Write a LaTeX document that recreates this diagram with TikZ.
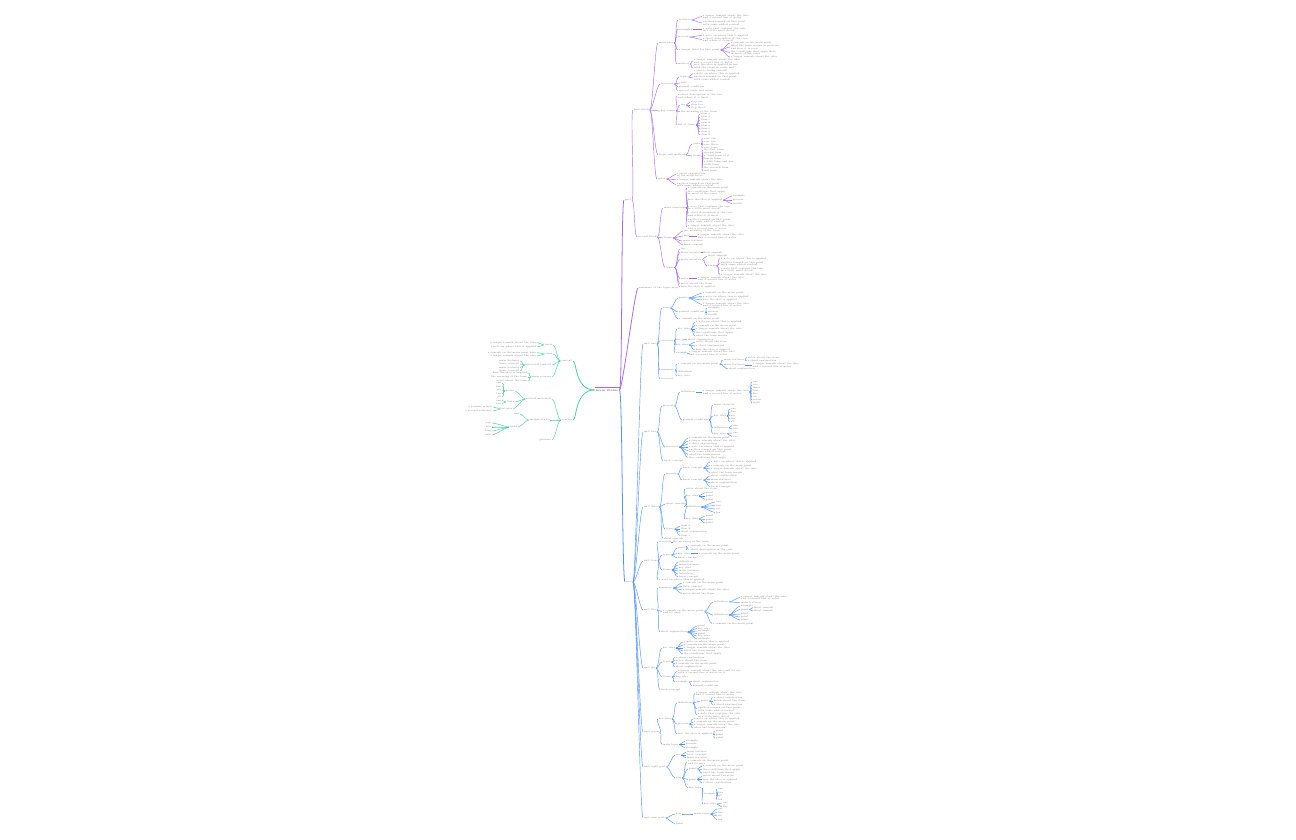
\documentclass[tikz,border=0pt]{standalone}
\definecolor{pur}{RGB}{160,105,245}
\definecolor{blu}{RGB}{80,145,250}
\definecolor{tea}{RGB}{70,205,160}
\definecolor{txtgray}{RGB}{125,125,125}
\tikzset{
  leaf/.style={font=\fontsize{1.4}{1.5}\selectfont, text=txtgray, inner sep=0.3pt, align=left},
  link/.style={line width=0.25pt},
  trunk/.style={line width=0.45pt},
  rootnode/.style={font=\fontsize{1.8}{2}\selectfont, text=black!70, inner sep=0.6pt},
}
\newcommand{\rkid}[6]{\node[leaf,anchor=west] (#3) at (#4,#5) {#6};
  \draw[link,#1] (#2.east) .. controls +(3,0) and +(-3,0) .. (#3.west);}
\newcommand{\lkid}[6]{\node[leaf,anchor=east] (#3) at (#4,#5) {#6};
  \draw[link,#1] (#2.west) .. controls +(-3,0) and +(3,0) .. (#3.east);}
\newcommand{\lstem}[6]{\node[leaf,anchor=east] (#3) at (#4,#5) {#6};
  \draw[link,#1] (#2.west) .. controls +(-20,0) and +(4,0) .. (#3.east);}
\begin{document}
\begin{tikzpicture}[x=0.2mm,y=-0.2mm]
\useasboundingbox (0,0) rectangle (1296,840);
\node[rootnode] (root) at (607,390) {main theme};
\draw[pur,line width=0.8pt] (root.north west) -- (root.north east);

\rkid{pur,trunk}{root}{A}{624}{200}{part}
\rkid{pur,trunk}{root}{B}{638}{288}{summary of the topic map}
\rkid{pur}{A}{A1}{633}{110}{first block}
\rkid{pur}{A}{A2}{637}{237}{second block}

\rkid{pur}{A1}{a}{658}{43}{main idea}
\rkid{pur}{a}{aa}{678}{20}{features}
\rkid{pur}{aa}{aaa}{702}{16.5}{a longer remark about the idea\\and a second line of notes}
\rkid{pur}{aa}{aab}{702}{23}{another remark on this point\\with some added context}
\rkid{pur}{a}{ab}{678}{29.5}{examples}
\rkid{pur}{ab}{aba}{702}{29.5}{a note that explains the rule\\in a little more detail}
\rkid{pur}{a}{ac}{677}{37}{process}
\rkid{pur}{ac}{aca}{702}{35.5}{a note on where this is applied}
\rkid{pur}{ac}{acb}{702}{39.5}{a short description of the case\\and where it is used}
\rkid{pur}{a}{ad}{678}{50}{a longer label for this point}
\rkid{pur}{ad}{ada}{730}{43}{a remark on the main point}
\rkid{pur}{ad}{adb}{730}{47}{what the term means in practice\\and how it is read}
\rkid{pur}{ad}{adc}{730}{52.5}{the conditions that apply here\\in most of the cases}
\rkid{pur}{ad}{add}{730}{57}{a longer remark about the idea}
\rkid{pur}{a}{ae}{677}{64}{method}
\rkid{pur}{ae}{aea}{693}{61}{a longer remark about the idea\\and a second line of notes}
\rkid{pur}{ae}{aeb}{693}{68}{how the idea is applied in use\\with the steps in order and\\a short closing remark}

\rkid{pur}{A1}{b}{660}{84}{overview}
\rkid{pur}{b}{ba}{679}{77}{types}
\rkid{pur}{ba}{baa}{693}{73.5}{a note on where this is applied}
\rkid{pur}{ba}{bab}{693}{78}{another remark on this point\\with some added context}
\rkid{pur}{b}{bb}{680}{83}{rule}
\rkid{pur}{b}{bc}{678}{87}{general condition}
\rkid{pur}{b}{bd}{678}{90.5}{special cases and notes}

\rkid{pur}{A1}{c}{660}{111}{key terms}
\rkid{pur}{c}{ca}{677}{96}{a short description of the case\\and where it is used}
\rkid{pur}{c}{cb}{680}{105}{use}
\rkid{pur}{cb}{cba}{690}{102}{step one}
\rkid{pur}{cb}{cbb}{690}{105}{step two}
\rkid{pur}{cb}{cbc}{690}{108}{step three}
\rkid{pur}{c}{cc}{680}{111.5}{the meaning of the term}
\rkid{pur}{c}{cd}{677}{125}{list of items}
\rkid{pur}{cd}{cda}{700}{114}{item a}
\rkid{pur}{cd}{cdb}{700}{117}{item b}
\rkid{pur}{cd}{cdc}{700}{120}{item c}
\rkid{pur}{cd}{cdd}{700}{123}{item d}
\rkid{pur}{cd}{cde}{700}{126}{item e}
\rkid{pur}{cd}{cdf}{700}{129}{item f}
\rkid{pur}{cd}{cdg}{700}{132}{item g}
\rkid{pur}{cd}{cdh}{700}{135}{item h}

\rkid{pur}{A1}{d}{658}{155}{steps and method}
\rkid{pur}{d}{da}{692}{144}{cases}
\rkid{pur}{da}{daa}{703}{138.5}{case one}
\rkid{pur}{da}{dab}{703}{141.5}{case two}
\rkid{pur}{da}{dac}{703}{144.5}{case three}
\rkid{pur}{da}{dad}{703}{147.5}{case four}
\rkid{pur}{d}{db}{692}{156}{forms}
\rkid{pur}{db}{dba}{703}{150}{the first form}
\rkid{pur}{db}{dbb}{703}{153}{second form}
\rkid{pur}{db}{dbc}{703}{156}{a third form of it}
\rkid{pur}{db}{dbd}{703}{159}{fourth form}
\rkid{pur}{db}{dbe}{703}{162}{a fifth form and use}
\rkid{pur}{db}{dbf}{703}{165}{sixth form}
\rkid{pur}{db}{dbg}{703}{168}{the seventh form}
\rkid{pur}{db}{dbh}{703}{171}{last form}

\rkid{pur}{A1}{e}{657}{179}{notes}
\rkid{pur}{e}{ea}{676}{174.5}{a short explanation\\of the main notes}
\rkid{pur}{e}{eb}{676}{179.5}{a longer remark about the idea}
\rkid{pur}{e}{ec}{676}{184.5}{another remark on this point\\with some added context}

\rkid{pur}{A2}{f}{663}{208}{main structure}
\rkid{pur}{f}{fa}{687}{188}{a remark on the main point}
\rkid{pur}{f}{fb}{687}{192.5}{the conditions that apply\\in most of the cases}
\rkid{pur}{f}{fc}{687}{200}{how the idea is applied}
\rkid{pur}{fc}{fca}{732}{196}{example}
\rkid{pur}{fc}{fcb}{732}{200}{process}
\rkid{pur}{fc}{fcc}{732}{203.5}{results}
\rkid{pur}{f}{fd}{687}{207.5}{a note that explains the rule\\in a little more detail}
\rkid{pur}{f}{fe}{687}{214}{a short description of the case\\and where it is used}
\rkid{pur}{f}{ff}{687}{220.5}{another remark on this point\\with some added context}
\rkid{pur}{f}{fg}{687}{227}{a longer remark about the idea\\and a second line of notes}

\rkid{pur}{A2}{g}{663}{238}{forms}
\rkid{pur}{g}{ga}{683}{231}{the meaning of the term}
\rkid{pur}{g}{gb}{683}{236}{use}
\rkid{pur}{gb}{gba}{697}{236}{a longer remark about the idea\\and a second line of notes}
\rkid{pur}{g}{gc}{682}{241}{main features}
\rkid{pur}{g}{gd}{683}{245}{basic concept}

\rkid{pur}{A2}{h}{665}{267.5}{types}
\rkid{pur}{h}{ha}{680}{249}{tip}
\rkid{pur}{h}{hb}{680}{252.5}{main varieties}
\rkid{pur}{hb}{hba}{702}{252.5}{short remark}
\rkid{pur}{h}{hc}{680}{259.5}{main varieties}
\rkid{pur}{hc}{hca}{707}{256}{short remark}
\rkid{pur}{hc}{hcb}{707}{266}{kinds}
\rkid{pur}{hcb}{hcba}{720}{258.5}{a note on where this is applied}
\rkid{pur}{hcb}{hcbb}{720}{263.5}{another remark on this point\\with some added context}
\rkid{pur}{hcb}{hcbc}{720}{269.5}{a note that explains the rule\\in a little more detail}
\rkid{pur}{hcb}{hcbd}{720}{274.5}{a longer remark about the idea}
\rkid{pur}{h}{hd}{680}{278.5}{notes}
\rkid{pur}{hd}{hda}{697}{278.5}{a longer remark about the idea\\and a second line of notes}
\rkid{pur}{h}{he}{680}{283.5}{notes about the item}
\rkid{pur}{h}{hf}{680}{287}{how the idea is applied}

\rkid{blu,trunk}{root}{C}{625}{582}{part}
\rkid{blu}{C}{C1}{643}{344}{unit one}
\rkid{blu}{C}{C2}{643}{432}{unit two}
\rkid{blu}{C}{C3}{643}{507}{unit three}
\rkid{blu}{C}{C4}{643}{561}{unit four}
\rkid{blu}{C}{C5}{643}{610}{unit five}
\rkid{blu}{C}{C6}{643}{668}{unit six}
\rkid{blu}{C}{C7}{643}{732}{unit seven}
\rkid{blu}{C}{C8}{643}{767}{unit eight part}
\rkid{blu}{C}{C9}{643}{818}{unit nine part}

\rkid{blu}{C1}{ja}{662}{308}{aims}
\rkid{blu}{ja}{jaa}{678}{298}{points}
\rkid{blu}{jaa}{jaaa}{702}{293}{a remark on the main point}
\rkid{blu}{jaa}{jaab}{702}{296.5}{a note on where this is applied}
\rkid{blu}{jaa}{jaac}{702}{300}{how the idea is applied}
\rkid{blu}{jaa}{jaad}{702}{304.5}{a longer remark about the idea\\and a second line of notes}
\rkid{blu}{ja}{jab}{678}{312}{general condition}
\rkid{blu}{jab}{jaba}{707}{308}{example}
\rkid{blu}{jab}{jabb}{707}{312}{process}
\rkid{blu}{jab}{jabc}{707}{315}{results}
\rkid{blu}{ja}{jac}{678}{319}{a remark on the main point}
\rkid{blu}{C1}{jb}{660}{341}{overview}
\rkid{blu}{jb}{jba}{677}{329}{key idea}
\rkid{blu}{jba}{jbaa}{695}{322}{a note on where this is applied}
\rkid{blu}{jba}{jbab}{695}{325.5}{a remark on the main point}
\rkid{blu}{jba}{jbac}{695}{329}{a longer remark about the idea}
\rkid{blu}{jba}{jbad}{695}{332.5}{the conditions that apply}
\rkid{blu}{jba}{jbae}{695}{336}{what the term means}
\rkid{blu}{jb}{jbb}{675}{340}{use}
\rkid{blu}{jbb}{jbba}{687}{339.5}{short explanation}
\rkid{blu}{jb}{jbc}{675}{345}{key idea}
\rkid{blu}{jbc}{jbca}{695}{342}{notes about the item}
\rkid{blu}{jbc}{jbcb}{695}{346}{a short explanation}
\rkid{blu}{jbc}{jbcc}{695}{350}{how the idea is applied}
\rkid{blu}{jb}{jbd}{675}{353}{example}
\rkid{blu}{jbd}{jbda}{688}{353}{a longer remark about the idea\\and a second line of notes}
\rkid{blu}{C1}{jc}{660}{370}{summary}
\rkid{blu}{jc}{jca}{677}{364}{a remark on the main point}
\rkid{blu}{jca}{jcaa}{723}{360}{main features}
\rkid{blu}{jcaa}{jcaaa}{747}{357.5}{notes about the item}
\rkid{blu}{jcaa}{jcaab}{747}{361}{a short explanation}
\rkid{blu}{jca}{jcab}{723}{365}{main features}
\rkid{blu}{jcab}{jcaba}{752}{365}{a longer remark about the idea\\and a second line of notes}
\rkid{blu}{jca}{jcac}{728}{369}{short explanation}
\rkid{blu}{jc}{jcb}{677}{372}{definition}
\rkid{blu}{jc}{jcc}{677}{376}{key idea}
\rkid{blu}{C1}{jd}{660}{379}{overview}

\rkid{blu}{C2}{ka}{662}{406}{process}
\rkid{blu}{ka}{kaa}{680}{392}{definition}
\rkid{blu}{kaa}{kaaa}{702}{392}{a longer remark about the idea\\and a second line of notes}
\rkid{blu}{kaaa}{k1}{752}{382}{one}
\rkid{blu}{kaaa}{k2}{752}{385}{two}
\rkid{blu}{kaaa}{k3}{752}{388}{three}
\rkid{blu}{kaaa}{k4}{752}{391}{four}
\rkid{blu}{kaaa}{k5}{752}{394}{five}
\rkid{blu}{kaaa}{k6}{752}{397}{six}
\rkid{blu}{kaaa}{k7}{752}{400}{seven}
\rkid{blu}{kaaa}{k8}{752}{403}{eight}
\rkid{blu}{ka}{kab}{682}{420}{general condition}
\rkid{blu}{kab}{kaba}{713}{405}{main varieties}
\rkid{blu}{kab}{kabb}{713}{416}{key idea}
\rkid{blu}{kabb}{kabba}{730}{409}{one}
\rkid{blu}{kabb}{kabbb}{730}{412}{two}
\rkid{blu}{kabb}{kabbc}{730}{415.5}{six}
\rkid{blu}{kabb}{kabbd}{730}{419}{ten}
\rkid{blu}{kabb}{kabbe}{730}{422}{all}
\rkid{blu}{kab}{kabc}{713}{428}{definition}
\rkid{blu}{kabc}{kabca}{732}{425.5}{one}
\rkid{blu}{kabc}{kabcb}{732}{429}{two}
\rkid{blu}{kab}{kabd}{713}{433.5}{key idea}
\rkid{blu}{kabd}{kabda}{732}{433}{one}
\rkid{blu}{kabd}{kabdb}{732}{436.5}{two}
\rkid{blu}{C2}{kb}{665}{447}{overview}
\rkid{blu}{kb}{kba}{688}{438}{a remark on the main point}
\rkid{blu}{kb}{kbb}{688}{441}{a longer remark about the idea}
\rkid{blu}{kb}{kbc}{688}{444}{a short explanation}
\rkid{blu}{kb}{kbd}{688}{447}{a note on where this is applied}
\rkid{blu}{kb}{kbe}{688}{450.5}{another remark on this point\\with some added context}
\rkid{blu}{kb}{kbf}{688}{454.5}{what the term means}
\rkid{blu}{kb}{kbg}{688}{457.5}{the conditions that apply}
\rkid{blu}{C2}{kc}{663}{461}{basic concept}

\rkid{blu}{C3}{ma}{665}{474}{process}
\rkid{blu}{ma}{maa}{682}{468}{basic concept}
\rkid{blu}{maa}{maaa}{710}{462}{a note on where this is applied}
\rkid{blu}{maa}{maab}{710}{465.5}{a remark on the main point}
\rkid{blu}{maa}{maac}{710}{469}{a longer remark about the idea}
\rkid{blu}{maa}{maad}{710}{472.5}{what the term means}
\rkid{blu}{ma}{mab}{682}{480}{basic concept}
\rkid{blu}{mab}{maba}{710}{476}{short explanation}
\rkid{blu}{mab}{mabb}{710}{479.5}{main features}
\rkid{blu}{mab}{mabc}{710}{483}{short explanation}
\rkid{blu}{mab}{mabd}{710}{486.5}{basic concept}
\rkid{blu}{C3}{mb}{665}{504}{short remark}
\rkid{blu}{mb}{mba}{685}{489}{notes about the item}
\rkid{blu}{mb}{mbb}{685}{496}{key idea}
\rkid{blu}{mbb}{mbba}{705}{492.5}{point}
\rkid{blu}{mbb}{mbbb}{705}{496}{point}
\rkid{blu}{mbb}{mbbc}{705}{499.5}{point}
\rkid{blu}{mb}{mbc}{685}{507}{definition}
\rkid{blu}{mbc}{mbca}{715}{502}{one}
\rkid{blu}{mbc}{mbcb}{715}{505.5}{two}
\rkid{blu}{mbc}{mbcc}{715}{509}{six}
\rkid{blu}{mbc}{mbcd}{715}{512.5}{ten}
\rkid{blu}{mb}{mbd}{685}{519}{key idea}
\rkid{blu}{mbd}{mbda}{705}{516}{point}
\rkid{blu}{mbd}{mbdb}{705}{519.5}{point}
\rkid{blu}{mbd}{mbdc}{705}{523}{point}
\rkid{blu}{C3}{mc}{665}{529}{types}
\rkid{blu}{mc}{mca}{680}{526}{item a}
\rkid{blu}{mc}{mcb}{680}{529}{item b}
\rkid{blu}{mc}{mcc}{680}{532}{short explanation}
\rkid{blu}{mc}{mcd}{680}{535.5}{item c}
\rkid{blu}{C3}{md}{663}{538.5}{short remark}

\rkid{blu}{C4}{na}{658}{542}{overview}
\rkid{blu}{na}{naa}{672}{542}{the meaning of the term}
\rkid{blu}{C4}{nb}{662}{555}{types}
\rkid{blu}{nb}{nba}{677}{548}{point}
\rkid{blu}{nba}{nbaa}{687}{546}{a remark on the main point}
\rkid{blu}{nba}{nbab}{687}{549.5}{a short description of the case}
\rkid{blu}{nb}{nbb}{677}{553.5}{key idea}
\rkid{blu}{nbb}{nbba}{698}{553.5}{a remark on the main point}
\rkid{blu}{nb}{nbc}{677}{558}{basic concept}
\rkid{blu}{C4}{nc}{662}{570}{forms}
\rkid{blu}{nc}{nca}{678}{562}{definition}
\rkid{blu}{nc}{ncb}{678}{565}{main features}
\rkid{blu}{nc}{ncc}{678}{568}{key idea}
\rkid{blu}{nc}{ncd}{678}{571}{main features}
\rkid{blu}{nc}{nce}{678}{574}{definition}
\rkid{blu}{nc}{ncf}{678}{577}{basic concept}
\rkid{blu}{C4}{nd}{658}{579.5}{a note on where this is applied}

\rkid{blu}{C5}{pa}{658}{588}{summary}
\rkid{blu}{pa}{paa}{682}{583}{a remark on the main point}
\rkid{blu}{pa}{pab}{682}{586.5}{basic concept}
\rkid{blu}{pa}{pac}{682}{590}{a longer remark about the idea}
\rkid{blu}{pa}{pad}{682}{593.5}{notes about the item}
\rkid{blu}{C5}{pb}{662}{611.5}{a remark on the main point\\and its uses}
\rkid{blu}{pb}{pba}{713}{602}{definition}
\rkid{blu}{pba}{pbaa}{740}{597.5}{a longer remark about the idea\\and a second line of notes}
\rkid{blu}{pba}{pbab}{740}{602.5}{main features}
\rkid{blu}{pb}{pbb}{713}{615}{definition}
\rkid{blu}{pbb}{pbba}{740}{606}{example}
\rkid{blu}{pbb}{pbbb}{740}{609.5}{point}
\rkid{blu}{pbbb}{pbbba}{753}{607.5}{short remark}
\rkid{blu}{pbbb}{pbbbb}{753}{611}{short remark}
\rkid{blu}{pbb}{pbbc}{740}{614}{point}
\rkid{blu}{pbb}{pbbd}{740}{617}{point}
\rkid{blu}{pbb}{pbbe}{740}{620}{point}
\rkid{blu}{pb}{pbc}{712}{623.5}{a remark on the main point}
\rkid{blu}{C5}{pc}{660}{632}{short explanation}
\rkid{blu}{pc}{pca}{697}{626}{point}
\rkid{blu}{pc}{pcb}{697}{628.5}{key idea}
\rkid{blu}{pc}{pcc}{697}{631}{example}
\rkid{blu}{pc}{pcd}{697}{633.5}{point}
\rkid{blu}{pc}{pce}{697}{636}{key idea}
\rkid{blu}{pc}{pcf}{697}{639}{example}

\rkid{blu}{C6}{qa}{662}{648}{key idea}
\rkid{blu}{qa}{qaa}{683}{642}{a note on where this is applied}
\rkid{blu}{qa}{qab}{683}{645}{a remark on the main point}
\rkid{blu}{qa}{qac}{683}{648}{a longer remark about the idea}
\rkid{blu}{qa}{qad}{683}{651}{what the term means}
\rkid{blu}{qa}{qae}{683}{654}{the conditions that apply}
\rkid{blu}{C6}{qb}{662}{662}{types}
\rkid{blu}{qb}{qba}{675}{657.5}{a short explanation}
\rkid{blu}{qb}{qbb}{675}{660.5}{notes about the item}
\rkid{blu}{qb}{qbc}{675}{664}{a remark on the main point}
\rkid{blu}{qb}{qbd}{675}{667}{short explanation}
\rkid{blu}{C6}{qc}{662}{677}{forms}
\rkid{blu}{qc}{qca}{677}{671.5}{a longer remark about the idea and its use\\with a second line of notes on it}
\rkid{blu}{qc}{qcb}{675}{676.5}{key idea}
\rkid{blu}{qc}{qcc}{675}{682}{example}
\rkid{blu}{qcc}{qcca}{692}{681.5}{short explanation}
\rkid{blu}{qcc}{qccb}{692}{685.5}{general condition}
\rkid{blu}{C6}{qd}{660}{689.5}{basic concept}

\rkid{blu}{C7}{ra}{658}{719}{key idea}
\rkid{blu}{ra}{raa}{677}{703}{definition}
\rkid{blu}{raa}{raaa}{695}{693.5}{a longer remark about the idea\\and a second line of notes}
\rkid{blu}{raa}{raab}{700}{701}{point}
\rkid{blu}{raab}{raaba}{713}{697.5}{a short explanation}
\rkid{blu}{raab}{raabb}{713}{701}{notes about the item}
\rkid{blu}{raab}{raabc}{713}{704.5}{a short explanation}
\rkid{blu}{raa}{raac}{697}{709}{another remark on this point\\with some added context}
\rkid{blu}{raa}{raad}{697}{715}{a note that explains the rule\\in a little more detail}
\rkid{blu}{ra}{rab}{677}{724}{process}
\rkid{blu}{rab}{raba}{693}{719}{a note on where this is applied}
\rkid{blu}{rab}{rabb}{693}{722}{a remark on the main point}
\rkid{blu}{rab}{rabc}{693}{725}{a longer remark about the idea}
\rkid{blu}{rab}{rabd}{693}{728}{what the term means}
\rkid{blu}{ra}{rac}{677}{734}{how the idea is applied}
\rkid{blu}{rac}{raca}{715}{731}{point}
\rkid{blu}{rac}{racb}{715}{734.5}{point}
\rkid{blu}{rac}{racc}{715}{738}{point}
\rkid{blu}{C7}{rb}{662}{744.5}{main topic}
\rkid{blu}{rb}{rba}{685}{741}{example}
\rkid{blu}{rb}{rbb}{685}{744.5}{process}
\rkid{blu}{rb}{rbc}{685}{748}{example}

\rkid{blu}{C8}{sa}{675}{755}{use}
\rkid{blu}{sa}{saa}{686}{752}{main features}
\rkid{blu}{sa}{sab}{686}{755}{basic concept}
\rkid{blu}{sa}{sac}{686}{758}{main features}
\rkid{blu}{C8}{sb}{675}{778}{aim}
\rkid{blu}{sb}{sba}{687}{762}{a remark on the main point\\and its uses}
\rkid{blu}{sb}{sbb}{688}{769}{point}
\rkid{blu}{sbb}{sbba}{702}{766}{a remark on the main point}
\rkid{blu}{sbb}{sbbb}{702}{769.5}{the conditions that apply}
\rkid{blu}{sbb}{sbbc}{702}{773}{what the term means}
\rkid{blu}{sb}{sbc}{688}{779.5}{point}
\rkid{blu}{sbc}{sbca}{702}{776}{notes about the item}
\rkid{blu}{sbc}{sbcb}{702}{779.5}{how the idea is applied}
\rkid{blu}{sbc}{sbcc}{702}{783}{a short explanation}
\rkid{blu}{sb}{sbd}{688}{788}{key idea}
\rkid{blu}{sbd}{sbda}{703}{794}{example}
\rkid{blu}{sbda}{sbdaa}{717}{789}{one}
\rkid{blu}{sbda}{sbdab}{717}{792.5}{two}
\rkid{blu}{sbda}{sbdac}{717}{796}{six}
\rkid{blu}{sbda}{sbdad}{717}{799.5}{ten}
\rkid{blu}{sbd}{sbdb}{703}{804}{key idea}
\rkid{blu}{sbdb}{sbdba}{722}{803}{one}
\rkid{blu}{sbdb}{sbdbb}{722}{807}{two}

\rkid{blu}{C9}{ta}{675}{814}{aim}
\rkid{blu}{ta}{taa}{693}{814}{main topic}
\rkid{blu}{taa}{taaa}{717}{809}{one}
\rkid{blu}{taa}{taab}{717}{812.5}{two}
\rkid{blu}{taa}{taac}{717}{816}{six}
\rkid{blu}{taa}{taad}{717}{819.5}{ten}
\rkid{blu}{C9}{tb}{675}{823.5}{point}

\lstem{tea,trunk}{root}{L1}{573}{361}{context}
\lstem{tea,trunk}{root}{L2}{573}{420}{sources}
\lkid{tea}{L1}{La}{553}{345}{basis}
\lkid{tea}{La}{Laa}{537}{342.5}{a longer remark about the idea}
\lkid{tea}{La}{Lab}{537}{347}{a note on where this is applied}
\lkid{tea}{L1}{Lb}{553}{354}{aims}
\lkid{tea}{Lb}{Lba}{537}{352.5}{a remark on the main point here}
\lkid{tea}{Lb}{Lbb}{537}{356}{a longer remark about the idea}
\lkid{tea}{L1}{Lc}{552}{365}{historical context}
\lkid{tea}{Lc}{Lca}{520}{361}{main features}
\lkid{tea}{Lc}{Lcb}{520}{364}{basic concept}
\lkid{tea}{Lc}{Lcc}{520}{367.5}{main features}
\lkid{tea}{Lc}{Lcd}{520}{371}{basic concept}
\lkid{tea}{L1}{Ld}{552}{377}{main reasons}
\lkid{tea}{Ld}{Lda}{528}{373}{how the idea is applied}
\lkid{tea}{Ld}{Ldb}{528}{377}{the meaning of the term}
\lkid{tea}{Ld}{Ldc}{528}{381}{notes about the item}
\lkid{tea}{L2}{Le}{552}{399}{related materials}
\lkid{tea}{Le}{Lea}{515}{391}{books}
\lkid{tea}{Lea}{Leaa}{502}{383}{one}
\lkid{tea}{Lea}{Leab}{502}{386.5}{two}
\lkid{tea}{Lea}{Leac}{502}{390}{six}
\lkid{tea}{Lea}{Lead}{502}{393.5}{ten}
\lkid{tea}{Lea}{Leae}{502}{397}{all}
\lkid{tea}{Le}{Leb}{515}{402}{texts}
\lkid{tea}{Leb}{Leba}{502}{400.5}{one}
\lkid{tea}{Leb}{Lebb}{502}{403.5}{two}
\lkid{tea}{Le}{Lec}{513}{409}{articles}
\lkid{tea}{Lec}{Leca}{493}{407}{a journal article}
\lkid{tea}{Lec}{Lecb}{493}{411}{a second reference}
\lkid{tea}{L2}{Lf}{550}{420}{further study}
\lkid{tea}{Lf}{Lfa}{520}{414}{aim}
\lkid{tea}{Lf}{Lfb}{518}{427}{links}
\lkid{tea}{Lfb}{Lfba}{492}{423}{web}
\lkid{tea}{Lfb}{Lfbb}{492}{427}{site}
\lkid{tea}{Lfb}{Lfbc}{492}{431}{blog}
\lkid{tea}{Lfb}{Lfbd}{492}{435}{wiki}
\lkid{tea}{L2}{Lg}{552}{440}{glossary}
\end{tikzpicture}
\end{document}
